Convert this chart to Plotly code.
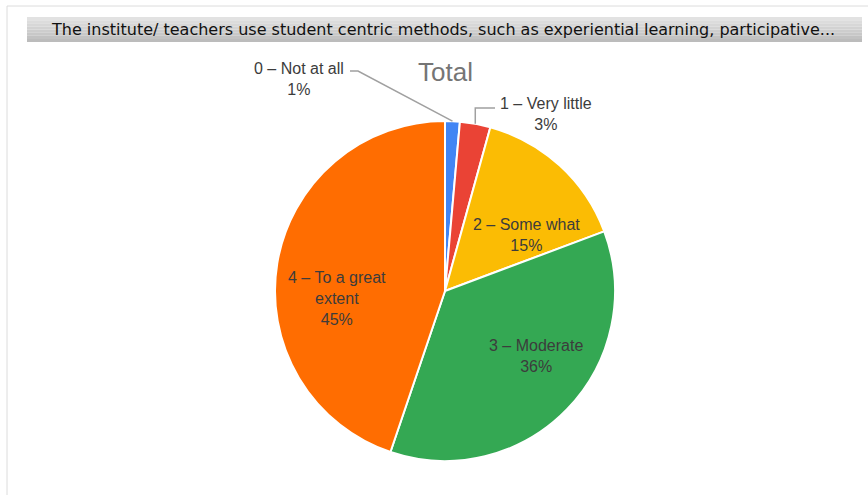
import math
import plotly.graph_objects as go

# ---- data ----
categories = ["0 – Not at all", "1 – Very little", "2 – Some what", "3 – Moderate", "4 – To a great extent"]
label_lines = ["0 – Not at all", "1 – Very little", "2 – Some what", "3 – Moderate", "4 – To a great<br>extent"]
values = [1.4, 2.9, 15.0, 35.9, 44.8]
colors = ["#4285F4", "#EA4335", "#FBBC04", "#34A853", "#FF6D01"]
header_text = "The institute/ teachers use student centric methods, such as experiential learning, participative..."
title_text = "Total"

W, H = 868, 495
CX, CY, R = 445, 291, 170


def px(x):
    return x / W


def py(y):
    return 1 - y / H


fig = go.Figure()
fig.add_trace(go.Pie(
    labels=categories,
    values=values,
    marker=dict(colors=colors, line=dict(color="white", width=2)),
    sort=False,
    direction="clockwise",
    rotation=0,
    textinfo="none",
    textposition="none",
    hoverinfo="label+percent",
    showlegend=False,
    domain=dict(x=[px(CX - R), px(CX + R)], y=[py(CY + R), py(CY - R)]),
))

total = sum(values)
pcts = [f"{round(v / total * 100)}%" for v in values]


def edge_point(i):
    start = sum(values[:i]) / total * 360
    mid = math.radians(start + values[i] / total * 180)
    return CX + R * math.sin(mid), CY - R * math.cos(mid)


shapes = []
# frame
shapes.append(dict(type="line", xref="paper", yref="paper", x0=px(7), x1=px(868), y0=py(6), y1=py(6),
                   line=dict(color="#dcdcdc", width=1)))
shapes.append(dict(type="line", xref="paper", yref="paper", x0=px(7), x1=px(7), y0=py(6), y1=py(495),
                   line=dict(color="#dcdcdc", width=1)))
# header bar (gradient approximated by bands)
band_cols = ["#e2e2e2", "#dcdcdc", "#d7d7d7", "#d2d2d2", "#cdcdcd", "#c8c8c8", "#c2c2c2", "#bcbcbc"]
y0, y1 = 17, 42
n = len(band_cols)
for k, c in enumerate(band_cols):
    ya = y0 + (y1 - y0) * k / n
    yb = y0 + (y1 - y0) * (k + 1) / n
    shapes.append(dict(type="rect", xref="paper", yref="paper", x0=px(27), x1=px(862), y0=py(yb), y1=py(ya),
                       fillcolor=c, line=dict(width=0), layer="below"))

# leader lines
bx, by = edge_point(0)
shapes.append(dict(type="path", xref="paper", yref="paper",
                   path=f"M {px(350)},{py(71)} L {px(358)},{py(71)} L {px(bx)},{py(by)}",
                   line=dict(color="#a0a0a0", width=1.5)))
rx, ry = edge_point(1)
shapes.append(dict(type="path", xref="paper", yref="paper",
                   path=f"M {px(495)},{py(108)} L {px(rx)},{py(108)} L {px(rx)},{py(ry)}",
                   line=dict(color="#a0a0a0", width=1.5)))

lab_font = dict(family="Liberation Sans, Arial, sans-serif", size=16, color="#3c3c3c")


def ann(text, x, y, xanchor="center", font=lab_font):
    return dict(text=text, x=px(x), y=py(y), xref="paper", yref="paper", showarrow=False,
                xanchor=xanchor, yanchor="middle", align="center", font=font)


annotations = [
    ann(header_text, 443, 29.5, font=dict(family="DejaVu Sans, Verdana, sans-serif", size=16, color="#111111")),
    ann(title_text, 445, 72, font=dict(family="Liberation Sans, Arial, sans-serif", size=26, color="#757575")),
    ann(f"{label_lines[0]}<br>{pcts[0]}", 346, 79, xanchor="right"),
    ann(f"{label_lines[1]}<br>{pcts[1]}", 498, 114, xanchor="left"),
    ann(f"{label_lines[2]}<br>{pcts[2]}", 526, 235),
    ann(f"{label_lines[3]}<br>{pcts[3]}", 536, 356),
    ann(f"{label_lines[4]}<br>{pcts[4]}", 337, 298),
]

fig.update_layout(
    width=W, height=H,
    margin=dict(l=0, r=0, t=0, b=0),
    paper_bgcolor="white", plot_bgcolor="white",
    shapes=shapes,
    annotations=annotations,
)

fig.write_html("out.html", config={"displayModeBar": False},
               post_script="document.body.style.margin='0';")
